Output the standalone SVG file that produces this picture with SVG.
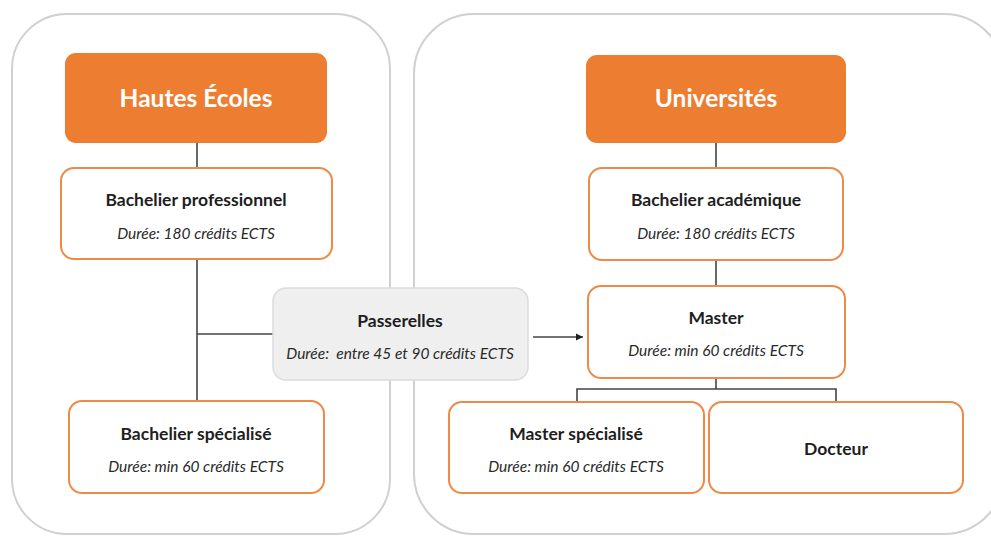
<svg xmlns="http://www.w3.org/2000/svg" width="991" height="537" viewBox="0 0 991 537">
<defs>
<style>
.cont{fill:#fff;stroke:#d0d0d0;stroke-width:2}
.head{fill:#ED7D31;stroke:none}
.box{fill:#fff;stroke:#EE8A47;stroke-width:2}
.pass{fill:#EFEFEF;stroke:#DCDCDC;stroke-width:1.5}
.ht{font-family:Lato,"Open Sans",sans-serif;font-weight:bold;font-size:24.5px;fill:#fff;text-anchor:middle}
.t{font-family:Lato,"Open Sans",sans-serif;font-weight:bold;font-size:17.5px;fill:#1e1e1e;text-anchor:middle}
.s{font-family:Lato,"Open Sans",sans-serif;font-style:italic;font-size:15.5px;fill:#2a2a2a;text-anchor:middle;white-space:pre}
.ln{fill:none;stroke:#444;stroke-width:1.6}
</style>
<marker id="arr" markerWidth="8" markerHeight="8" refX="7" refY="4" orient="auto" markerUnits="userSpaceOnUse">
<path d="M0,0.5 L7,4 L0,7.5 Z" fill="#222"/>
</marker>
</defs>
<rect width="991" height="537" fill="#fff"/>
<g id="container-left"><rect class="cont" x="12" y="14" width="378" height="520" rx="55"/></g>
<g id="container-right"><rect class="cont" x="414" y="14" width="590" height="520" rx="60"/></g>
<g id="connectors">
<line class="ln" x1="197" y1="143" x2="197" y2="168"/>
<line class="ln" x1="197" y1="259" x2="197" y2="401"/>
<line class="ln" x1="197" y1="334" x2="273" y2="334"/>
<line class="ln" x1="533" y1="337" x2="583" y2="337" marker-end="url(#arr)"/>
<line class="ln" x1="716" y1="143" x2="716" y2="168"/>
<line class="ln" x1="716" y1="260" x2="716" y2="286"/>
<line class="ln" x1="716" y1="378" x2="716" y2="389"/>
<polyline class="ln" points="577,402 577,389 836,389 836,402"/>
</g>
<g id="hautes-ecoles"><rect class="head" x="65" y="53" width="262" height="90" rx="11"/><text class="ht" x="196" y="107">Hautes Écoles</text></g>
<g id="bachelier-professionnel"><rect class="box" x="61" y="168" width="271" height="91" rx="13"/><text class="t" x="196" y="206">Bachelier professionnel</text><text class="s" x="196" y="239">Durée: 180 crédits ECTS</text></g>
<g id="bachelier-specialise"><rect class="box" x="69" y="401" width="255" height="92" rx="13"/><text class="t" x="196" y="440">Bachelier spécialisé</text><text class="s" x="196" y="472">Durée: min 60 crédits ECTS</text></g>
<g id="passerelles"><rect class="pass" x="273" y="288" width="255" height="92" rx="13"/><text class="t" x="400" y="327">Passerelles</text><text class="s" x="400" y="359">Durée:  entre 45 et 90 crédits ECTS</text></g>
<g id="universites"><rect class="head" x="586" y="55" width="260" height="88" rx="11"/><text class="ht" x="716" y="107">Universités</text></g>
<g id="bachelier-academique"><rect class="box" x="589" y="168" width="254" height="92" rx="13"/><text class="t" x="716" y="206">Bachelier académique</text><text class="s" x="716" y="239">Durée: 180 crédits ECTS</text></g>
<g id="master"><rect class="box" x="588" y="286" width="257" height="92" rx="13"/><text class="t" x="716" y="324">Master</text><text class="s" x="716" y="356">Durée: min 60 crédits ECTS</text></g>
<g id="master-specialise"><rect class="box" x="449" y="402" width="255" height="91" rx="13"/><text class="t" x="576" y="440">Master spécialisé</text><text class="s" x="576" y="472">Durée: min 60 crédits ECTS</text></g>
<g id="docteur"><rect class="box" x="709" y="402" width="254" height="91" rx="13"/><text class="t" x="836" y="455">Docteur</text></g>
</svg>
